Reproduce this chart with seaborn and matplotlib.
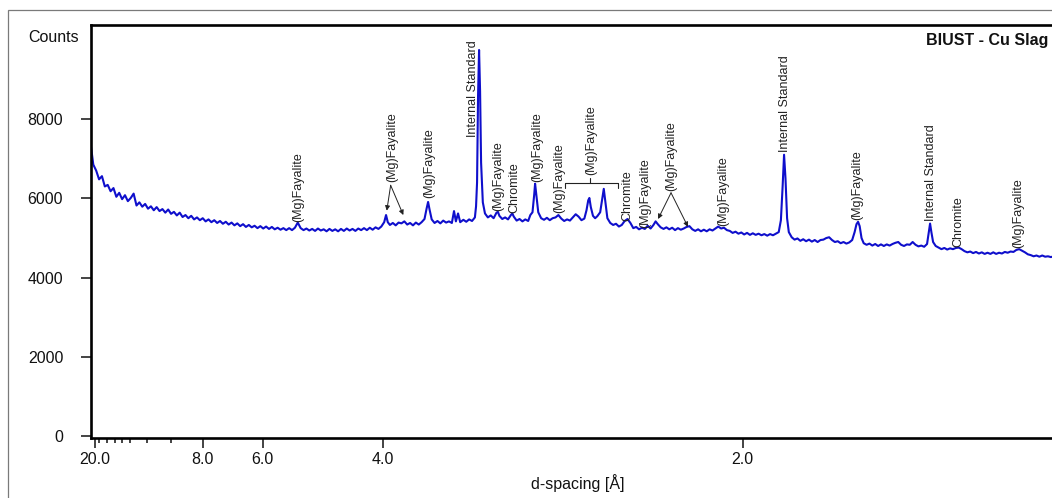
import matplotlib
matplotlib.use('Agg')
import matplotlib.pyplot as plt
import seaborn as sns
import pandas as pd
from matplotlib.patches import Rectangle

# x axis of the diffractogram is linear in 1/d, so the trace is stored as 1/d (1/Angstrom)
inv_d = [
    0.0474, 0.049, 0.051, 0.053, 0.055, 0.057, 0.059, 0.061, 0.063, 0.065,
    0.067, 0.069, 0.071, 0.073, 0.075, 0.077, 0.079, 0.081, 0.083, 0.085,
    0.087, 0.089, 0.091, 0.093, 0.095, 0.097, 0.099, 0.101, 0.103, 0.105,
    0.107, 0.109, 0.111, 0.113, 0.115, 0.117, 0.119, 0.121, 0.123, 0.125,
    0.127, 0.129, 0.131, 0.133, 0.135, 0.137, 0.139, 0.141, 0.143, 0.145,
    0.147, 0.149, 0.151, 0.153, 0.155, 0.157, 0.159, 0.161, 0.163, 0.165,
    0.167, 0.169, 0.171, 0.173, 0.175, 0.177, 0.179, 0.181, 0.183, 0.185,
    0.187, 0.189, 0.191, 0.193, 0.195, 0.197, 0.199, 0.201, 0.203, 0.205,
    0.207, 0.209, 0.211, 0.213, 0.215, 0.217, 0.219, 0.221, 0.223, 0.225,
    0.227, 0.229, 0.231, 0.233, 0.235, 0.237, 0.239, 0.241, 0.243, 0.245,
    0.247, 0.249, 0.251, 0.2523, 0.2535, 0.255, 0.257, 0.259, 0.261, 0.263,
    0.265, 0.267, 0.269, 0.271, 0.273, 0.275, 0.277, 0.279, 0.2805, 0.2815,
    0.2825, 0.284, 0.286, 0.288, 0.290, 0.292, 0.294, 0.296, 0.298, 0.2995,
    0.3008, 0.3023, 0.3038, 0.306, 0.308, 0.310, 0.312, 0.314, 0.3148, 0.3155,
    0.3162, 0.3169, 0.3176, 0.3183, 0.3195, 0.321, 0.323, 0.325, 0.327, 0.329,
    0.330, 0.331, 0.333, 0.335, 0.337, 0.339, 0.340, 0.341, 0.343, 0.345,
    0.347, 0.349, 0.351, 0.3525, 0.354, 0.3552, 0.3558, 0.3566, 0.358, 0.360,
    0.362, 0.364, 0.366, 0.368, 0.370, 0.372, 0.374, 0.376, 0.378, 0.380,
    0.382, 0.384, 0.386, 0.388, 0.390, 0.3915, 0.3927, 0.3935, 0.3945, 0.396,
    0.3975, 0.399, 0.401, 0.4025, 0.4035, 0.4045, 0.406, 0.408, 0.410, 0.412,
    0.414, 0.416, 0.418, 0.420, 0.422, 0.424, 0.426, 0.428, 0.430, 0.432,
    0.434, 0.436, 0.438, 0.4395, 0.441, 0.443, 0.445, 0.447, 0.449, 0.451,
    0.453, 0.455, 0.457, 0.459, 0.461, 0.463, 0.465, 0.467, 0.469, 0.471,
    0.473, 0.475, 0.477, 0.479, 0.481, 0.483, 0.485, 0.487, 0.489, 0.491,
    0.493, 0.495, 0.497, 0.499, 0.501, 0.503, 0.505, 0.507, 0.509, 0.511,
    0.513, 0.515, 0.517, 0.519, 0.521, 0.523, 0.525, 0.5265, 0.5277, 0.5287,
    0.5297, 0.5308, 0.532, 0.534, 0.536, 0.538, 0.540, 0.542, 0.544, 0.546,
    0.548, 0.550, 0.552, 0.554, 0.556, 0.558, 0.560, 0.562, 0.564, 0.566,
    0.568, 0.570, 0.572, 0.574, 0.576, 0.5777, 0.5790, 0.5801, 0.5812, 0.5825,
    0.584, 0.586, 0.588, 0.590, 0.592, 0.594, 0.596, 0.598, 0.600, 0.602,
    0.604, 0.606, 0.608, 0.610, 0.612, 0.614, 0.616, 0.618, 0.620, 0.622,
    0.624, 0.626, 0.628, 0.6292, 0.6301, 0.6310, 0.6322, 0.634, 0.636, 0.638,
    0.640, 0.642, 0.644, 0.646, 0.648, 0.650, 0.652, 0.654, 0.656, 0.658,
    0.660, 0.662, 0.664, 0.666, 0.668, 0.670, 0.672, 0.674, 0.676, 0.678,
    0.680, 0.682, 0.684, 0.686, 0.688, 0.690, 0.692, 0.694, 0.696, 0.698,
    0.700, 0.702, 0.704, 0.706, 0.708, 0.710, 0.712, 0.714, 0.716, 0.718,
    0.720, 0.722, 0.7238,
]
counts = [
    7300, 6850, 6700, 6480, 6560, 6300, 6340, 6180, 6260, 6040,
    6140, 5980, 6080, 5930, 6010, 6120, 5820, 5900, 5790, 5860,
    5740, 5800, 5700, 5780, 5680, 5730, 5640, 5720, 5610, 5660,
    5570, 5640, 5530, 5580, 5500, 5560, 5470, 5520, 5450, 5500,
    5420, 5470, 5400, 5450, 5380, 5430, 5360, 5410, 5340, 5390,
    5320, 5370, 5300, 5350, 5280, 5330, 5270, 5310, 5250, 5300,
    5240, 5290, 5230, 5280, 5220, 5260, 5210, 5250, 5200, 5250,
    5200, 5260, 5390, 5250, 5200, 5240, 5190, 5230, 5180, 5240,
    5190, 5220, 5170, 5230, 5180, 5220, 5170, 5230, 5180, 5240,
    5190, 5230, 5180, 5240, 5200, 5250, 5200, 5260, 5210, 5270,
    5230, 5290, 5400, 5580, 5400, 5330, 5380, 5320, 5390, 5370,
    5420, 5340, 5380, 5320, 5390, 5340, 5400, 5480, 5750, 5910,
    5720, 5470, 5380, 5430, 5370, 5440, 5390, 5420, 5380, 5680,
    5420, 5620, 5400, 5460, 5410, 5470, 5430, 5520, 5800, 6400,
    8600, 9740, 8700, 6900, 5900, 5620, 5520, 5570, 5500, 5640,
    5660, 5560, 5480, 5520, 5470, 5580, 5620, 5540, 5440, 5480,
    5420, 5470, 5430, 5580, 5650, 6100, 6370, 6100, 5650, 5500,
    5460, 5510, 5450, 5500, 5520, 5580, 5490, 5430, 5470, 5440,
    5520, 5600, 5540, 5450, 5490, 5700, 5950, 6010, 5780, 5560,
    5500, 5550, 5650, 6000, 6240, 5950, 5500, 5380, 5330, 5360,
    5290, 5330, 5430, 5480, 5380, 5250, 5280, 5220, 5260, 5230,
    5310, 5240, 5330, 5420, 5350, 5270, 5230, 5270, 5220, 5260,
    5200, 5250, 5210, 5240, 5280, 5300, 5220, 5180, 5220, 5170,
    5210, 5170, 5220, 5190, 5240, 5290, 5240, 5260, 5200, 5180,
    5130, 5160, 5110, 5140, 5090, 5130, 5080, 5120, 5080, 5110,
    5070, 5100, 5060, 5100, 5070, 5110, 5150, 5450, 6300, 7100,
    6500, 5500, 5150, 5020, 4960, 4990, 4930, 4970, 4920, 4960,
    4910, 4950, 4900, 4950, 4960, 5000, 5020, 4950, 4900, 4920,
    4870, 4900, 4860, 4890, 4950, 5150, 5350, 5410, 5300, 5000,
    4870, 4830, 4860, 4810, 4850, 4800, 4840, 4800, 4840, 4810,
    4850, 4880, 4900, 4830, 4800, 4840, 4830, 4900, 4830, 4790,
    4810, 4780, 4850, 5150, 5365, 5150, 4900, 4800, 4760, 4720,
    4750, 4710, 4740, 4720, 4750, 4760, 4720, 4670, 4640, 4660,
    4620, 4650, 4610, 4640, 4600, 4630, 4600, 4640, 4600, 4630,
    4610, 4650, 4630, 4660, 4650, 4700, 4720, 4680, 4640, 4590,
    4570, 4540, 4560, 4530, 4560, 4530, 4540, 4520, 4540, 4520,
    4530, 4510, 4520,
]

# axis ticks (d-spacing, Angstrom)
major_d = [20.0, 8.0, 6.0, 4.0, 2.0]
minor_d = [19.0, 17.0, 15.6, 14.5, 13.4, 11.6, 9.7]
y_ticks = [0, 2000, 4000, 6000, 8000]

# phase labels: text, position (1/d) and height (counts) of the label foot
label_text = ['(Mg)Fayalite', '(Mg)Fayalite', '(Mg)Fayalite', 'Internal Standard',
              '(Mg)Fayalite', 'Chromite', '(Mg)Fayalite', '(Mg)Fayalite',
              '(Mg)Fayalite', 'Chromite', '(Mg)Fayalite', '(Mg)Fayalite',
              '(Mg)Fayalite', 'Internal Standard', '(Mg)Fayalite',
              'Internal Standard', 'Chromite', '(Mg)Fayalite']
label_pos = [0.1912, 0.2565, 0.2821, 0.3124, 0.3301, 0.3412, 0.3572, 0.3724,
             0.3947, 0.4200, 0.4322, 0.4502, 0.4863, 0.5294, 0.5797, 0.6308,
             0.6495, 0.6912]
label_cnt = [5400, 6410, 6010, 7550, 5680, 5630, 6410, 5630, 6590, 5430, 5250,
             6190, 5300, 7170, 5460, 5430, 4775, 4750]

# arrows from a label to the peaks it names: (apex, [tips])
arrows = [
    ((0.2555, 6330), [(0.2528, 5690), (0.2643, 5580)]),
    ((0.4502, 6140), [(0.4412, 5480), (0.4620, 5280)]),
]
# bracket grouping two peaks under one label
bracket_span = (0.3766, 0.4134)
bracket_mid = 0.3940
bracket_cnt = 6390

sns.set_theme(style='ticks')
plt.rcParams['font.family'] = ['Liberation Sans', 'DejaVu Sans']

fig = plt.figure(figsize=(10.52, 4.98), dpi=100)
ax = fig.add_axes([91 / 1052, 1 - 438 / 498, (1065 - 91) / 1052, (438 - 25) / 498])

df = pd.DataFrame({'inv_d': inv_d, 'counts': counts})
sns.lineplot(data=df, x='inv_d', y='counts', ax=ax, color='#0f0fcc',
             linewidth=1.5, sort=False, estimator=None)

ax.set_xlim(0.0474, 0.7238)
ax.set_ylim(-40, 10370)

ax.set_xticks([1 / d for d in major_d])
ax.set_xticklabels([f'{d:.1f}' for d in major_d])
ax.set_xticks([1 / d for d in minor_d], minor=True)
ax.set_yticks(y_ticks)
ax.set_yticklabels([str(v) for v in y_ticks])

ax.tick_params(axis='both', which='major', direction='out', length=7, width=1.1,
               labelsize=11.5, colors='#111111')
ax.tick_params(axis='x', which='major', pad=3)
ax.tick_params(axis='y', which='major', pad=13)
ax.tick_params(axis='x', which='minor', direction='out', length=3.5, width=1.1,
               bottom=True, color='#111111')

for side in ['left', 'bottom', 'top', 'right']:
    ax.spines[side].set_color('black')
    ax.spines[side].set_linewidth(1.9)

ax.set_xlabel('d-spacing [Å]', fontsize=11.5, labelpad=5, color='#111111')
ax.set_ylabel('')

# peak labels
for txt, x, y in zip(label_text, label_pos, label_cnt):
    ax.text(x, y, txt, rotation=90, ha='center', va='bottom', fontsize=9,
            color='#222222')

for apex, tips in arrows:
    for tip in tips:
        ax.annotate('', xy=tip, xytext=apex,
                    arrowprops=dict(arrowstyle='-|>', color='#222222', lw=0.7,
                                    mutation_scale=7, shrinkA=0, shrinkB=0))

ax.plot(bracket_span, [bracket_cnt, bracket_cnt], color='#222222', lw=0.8)
for bx in bracket_span:
    ax.plot([bx, bx], [bracket_cnt, bracket_cnt - 125], color='#222222', lw=0.8)
ax.plot([bracket_mid, bracket_mid], [bracket_cnt, bracket_cnt + 125],
        color='#222222', lw=0.8)

fig.text(28 / 1052, 1 - 37 / 498, 'Counts', ha='left', va='center',
         fontsize=11.5, color='#111111')
fig.text(1048 / 1052, 1 - 41 / 498, 'BIUST - Cu Slag', ha='right', va='center',
         fontsize=11.5, fontweight='bold', color='#111111')

# outer frame of the exported picture
fig.patches.append(Rectangle((8 / 1052, -0.1), 1.2, 1.1 - 10 / 498,
                             transform=fig.transFigure, fill=False,
                             edgecolor='#7a7a7a', lw=0.9))

fig.savefig('out.png', dpi=100)
